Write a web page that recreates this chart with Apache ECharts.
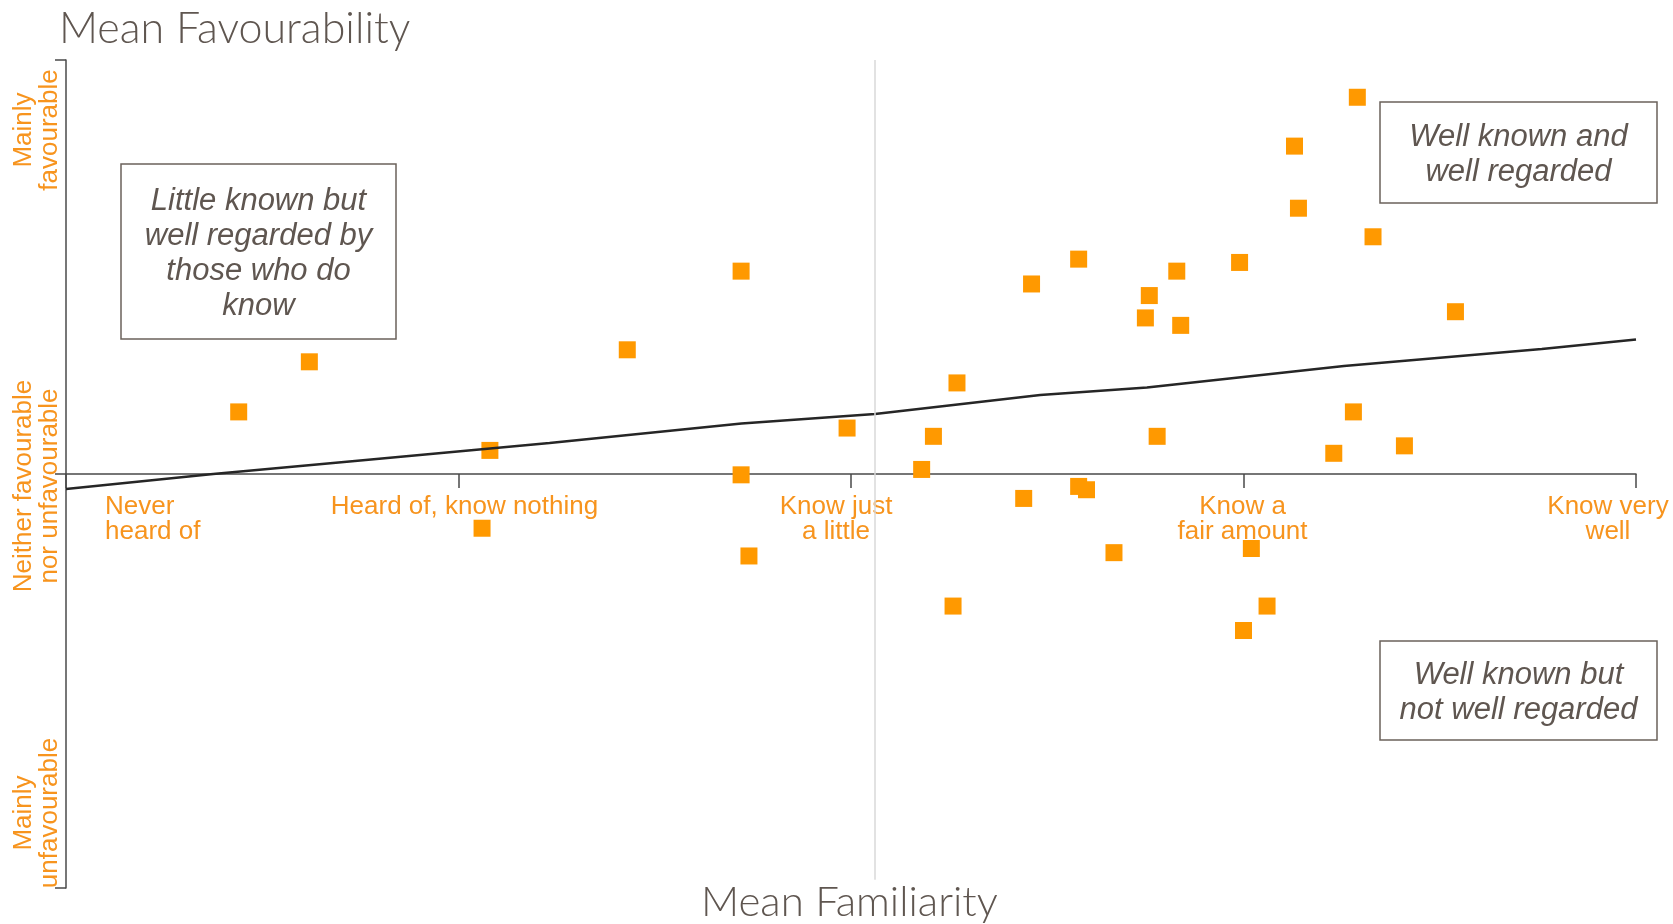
<!DOCTYPE html>
<html>
<head>
<meta charset="utf-8">
<title>Mean Favourability vs Mean Familiarity</title>
<script src="https://cdn.jsdelivr.net/npm/echarts@6/dist/echarts.min.js"></script>
<style>
  html, body { margin: 0; padding: 0; background: #fff; }
  #main { width: 1673px; height: 924px; }
</style>
</head>
<body>
<div id="main"></div>
<script>
// familiarity: 1 = never heard of ... 5 = know very well
// favourability: -1 = mainly unfavourable ... 1 = mainly favourable
const familiarity = [
  1.44, 1.62, 2.08, 2.06, 2.43, 2.72, 2.72, 2.74, 2.99, 3.18, 3.21, 3.27,
  3.26, 3.46, 3.44, 3.58, 3.58, 3.60, 3.67, 3.76, 3.75, 3.83, 3.84, 3.78,
  3.99, 4.02, 4.00, 4.06, 4.13, 4.14, 4.29, 4.33, 4.28, 4.23, 4.41, 4.54
];
const favourability = [
  0.150, 0.271, 0.057, -0.131, 0.300, 0.490, -0.002, -0.198, 0.111, 0.011, 0.091, 0.220,
  -0.319, 0.459, -0.059, 0.519, -0.030, -0.038, -0.190, 0.431, 0.377, 0.490, 0.359, 0.091,
  0.511, -0.180, -0.378, -0.319, 0.792, 0.642, 0.910, 0.573, 0.150, 0.050, 0.068, 0.392
];

// trend line
const trendX = [1.0, 1.375, 1.729, 2.232, 2.721, 3.061, 3.482, 3.754, 4.256, 4.76, 5.0];
const trendY = [-0.036, 0.0, 0.031, 0.075, 0.122, 0.145, 0.191, 0.209, 0.261, 0.302, 0.325];

const meanFamiliarity = 3.06;

const xLabels = ['Never\nheard of', 'Heard of, know nothing', 'Know just\na little', 'Know a\nfair amount', 'Know very\nwell'];
const yLabels = ['Mainly\nunfavourable', 'Neither favourable\nnor unfavourable', 'Mainly\nfavourable'];

const quadrantNotes = [
  'Little known but\nwell regarded by\nthose who do\nknow',
  'Well known and\nwell regarded',
  'Well known but\nnot well regarded'
];

const xMin = 1, xMax = 5;
const yMin = -1, yMax = 1;

const orange = '#F7941E';
const greyText = '#5f5650';
const axisColor = '#4a4a4a';

const points = familiarity.map((x, i) => [x, favourability[i]]);
const trend = trendX.map((x, i) => [x, trendY[i]]);

// grid box
const gridTop = 60, gridBottom = 36, chartH = 924;
const gridH = chartH - gridTop - gridBottom;
// lift the category axis up to favourability 0
const xAxisOffset = -gridH * (0 - yMin) / (yMax - yMin);

// rich style names per label, so each one can be nudged like in the original
const xRich = ['x0', 'x1', 'x2', 'x3', 'x4'];
const yRich = ['y0', 'y1', 'y2'];

const labelFont = {
  fontFamily: '"Liberation Sans", Arial, sans-serif',
  fontSize: 26,
  color: orange
};

function noteBox(text, x, y, w, h) {
  return {
    type: 'group',
    children: [
      {
        type: 'rect',
        shape: { x: x, y: y, width: w, height: h },
        style: { fill: '#fff', stroke: '#6b625b', lineWidth: 1.5 }
      },
      {
        type: 'text',
        x: x + w / 2,
        y: y + h / 2 + 2,
        style: {
          text: text,
          align: 'center',
          verticalAlign: 'middle',
          fontFamily: '"Liberation Sans", Arial, sans-serif',
          fontStyle: 'italic',
          fontSize: 31,
          lineHeight: 35,
          fill: greyText
        }
      }
    ]
  };
}

var chartDom = document.getElementById('main');
var myChart = echarts.init(chartDom);
var option;

option = {
  animation: false,
  title: [
    {
      text: 'Mean Favourability',
      left: 54,
      top: 3,
      textStyle: {
        fontFamily: 'Lato, "Open Sans", sans-serif',
        fontWeight: 300,
        fontSize: 43,
        color: greyText
      }
    },
    {
      text: 'Mean Familiarity',
      left: 701,
      top: 881,
      padding: 0,
      textStyle: {
        fontFamily: 'Lato, "Open Sans", sans-serif',
        fontWeight: 300,
        fontSize: 42,
        color: greyText
      }
    }
  ],
  grid: {
    left: 66,
    right: 37,
    top: gridTop,
    bottom: gridBottom,
    outerBoundsMode: 'none',
    containLabel: false
  },
  xAxis: {
    type: 'value',
    min: xMin,
    max: xMax,
    interval: 1,
    offset: xAxisOffset,
    axisLine: { onZero: false, lineStyle: { color: axisColor, width: 1.5 } },
    axisTick: { show: true, length: 14, lineStyle: { color: axisColor, width: 1.5 } },
    splitLine: { show: false },
    axisLabel: {
      margin: 20,
      showMinLabel: true,
      showMaxLabel: true,
      alignMinLabel: 'left',
      formatter: function (value) {
        const i = Math.round(value) - 1;
        return '{' + xRich[i] + '|' + xLabels[i] + '}';
      },
      rich: {
        x0: Object.assign({ lineHeight: 25, padding: [0, 0, 0, 39] }, labelFont),
        x1: Object.assign({ lineHeight: 25, padding: [0, 0, 0, 12] }, labelFont),
        x2: Object.assign({ lineHeight: 25, padding: [0, 30, 0, 0] }, labelFont),
        x3: Object.assign({ lineHeight: 25, padding: [0, 2, 0, 0] }, labelFont),
        x4: Object.assign({ lineHeight: 25, padding: [0, 56, 0, 0] }, labelFont)
      }
    }
  },
  yAxis: {
    type: 'value',
    min: yMin,
    max: yMax,
    interval: 1,
    axisLine: { show: true, lineStyle: { color: axisColor, width: 1.5 } },
    axisTick: { show: true, length: 11, lineStyle: { color: axisColor, width: 1.5 } },
    splitLine: { show: false },
    axisLabel: {
      rotate: 90,
      margin: 3,
      showMinLabel: true,
      showMaxLabel: true,
      formatter: function (value) {
        const i = Math.round(value) + 1;
        return '{' + yRich[i] + '|' + yLabels[i] + '}';
      },
      rich: {
        y0: Object.assign({ lineHeight: 26, padding: [0, 0, 0, 150] }, labelFont),
        y1: Object.assign({ lineHeight: 26, padding: [0, 24, 0, 0] }, labelFont),
        y2: Object.assign({ lineHeight: 26, padding: [0, 140, 0, 0] }, labelFont)
      }
    }
  },
  series: [
    {
      name: 'Mean familiarity',
      type: 'line',
      data: [],
      silent: true,
      markLine: {
        symbol: 'none',
        silent: true,
        label: { show: false },
        lineStyle: { color: '#d9d9d9', width: 1.5, type: 'solid' },
        data: [
          [{ coord: [meanFamiliarity, 1] }, { coord: [meanFamiliarity, -0.98] }]
        ]
      }
    },
    {
      name: 'Brands',
      type: 'scatter',
      symbol: 'rect',
      symbolSize: 17,
      itemStyle: { color: '#FF9900', opacity: 1 },
      data: points,
      z: 3
    },
    {
      name: 'Trend',
      type: 'line',
      data: trend,
      showSymbol: false,
      lineStyle: { color: '#262626', width: 2.5 },
      z: 4
    }
  ],
  graphic: [
    noteBox(quadrantNotes[0], 121, 164, 275, 175),
    noteBox(quadrantNotes[1], 1380, 102, 277, 101),
    noteBox(quadrantNotes[2], 1380, 641, 277, 99)
  ]
};

option && myChart.setOption(option);
</script>
</body>
</html>
